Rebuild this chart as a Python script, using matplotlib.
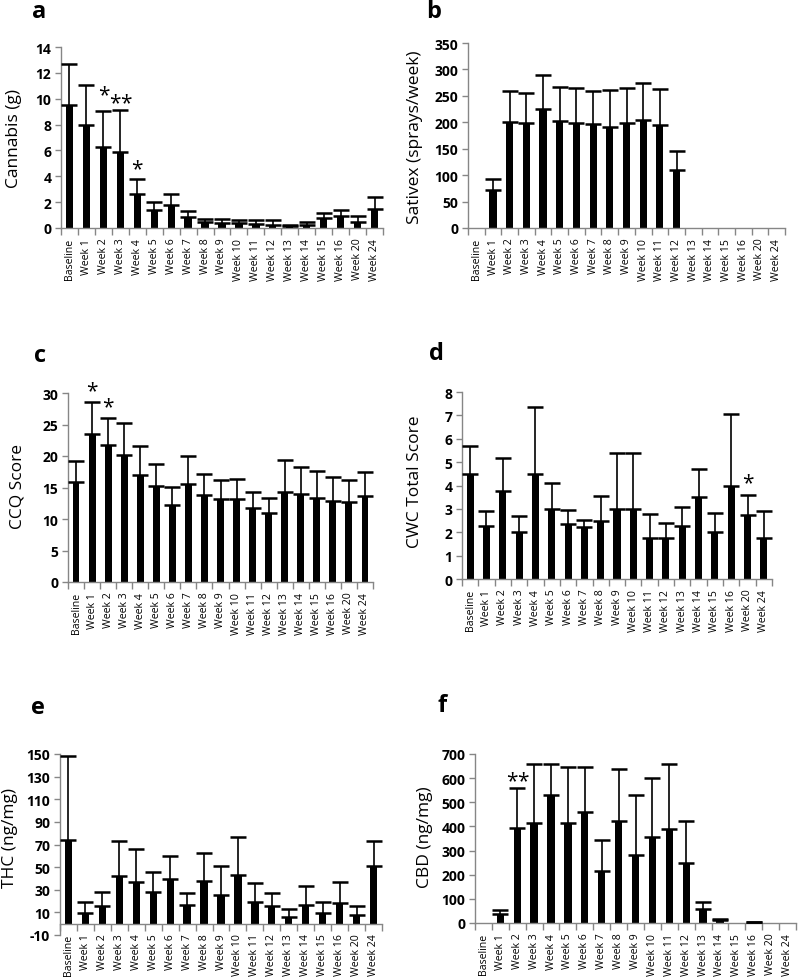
import numpy as np
import matplotlib
matplotlib.use('Agg')
from matplotlib import pyplot as plt

plt.rcParams['font.family'] = ['Open Sans', 'DejaVu Sans']

weeks = ['Baseline'] + ['Week %d' % w for w in list(range(1, 17)) + [20, 24]]

cannabis_mean = [9.5, 7.95, 6.25, 5.9, 2.65, 1.4, 1.8, 0.85, 0.5, 0.4, 0.35, 0.3, 0.25, 0.12, 0.23, 0.8, 0.95, 0.5, 1.5]
cannabis_err = [3.15, 3.1, 2.8, 3.25, 1.17, 0.58, 0.85, 0.49, 0.22, 0.32, 0.25, 0.3, 0.35, 0.14, 0.21, 0.36, 0.42, 0.4, 0.87]

sativex_mean = [0, 72, 200, 199, 226, 202, 199, 197, 192, 199, 205, 194, 109, 0, 0, 0, 0, 0, 0]
sativex_err = [0, 20, 59, 57, 64, 65, 65, 62, 69, 66, 69, 69, 37, 0, 0, 0, 0, 0, 0]

ccq_mean = [15.9, 23.5, 21.7, 20.2, 17.0, 15.2, 12.3, 15.5, 13.8, 13.1, 13.1, 11.8, 11.0, 14.3, 13.9, 13.4, 12.9, 12.7, 13.6]
ccq_err = [3.3, 5.0, 4.3, 5.1, 4.6, 3.6, 2.8, 4.5, 3.3, 3.1, 3.3, 2.5, 2.4, 5.1, 4.3, 4.2, 3.7, 3.5, 3.8]

cwc_mean = [4.5, 2.25, 3.75, 2.0, 4.5, 3.0, 2.36, 2.24, 2.5, 3.0, 3.0, 1.75, 1.75, 2.25, 3.5, 2.0, 4.0, 2.75, 1.75]
cwc_err = [1.21, 0.65, 1.44, 0.71, 2.86, 1.1, 0.58, 0.27, 1.04, 2.37, 2.37, 1.05, 0.65, 0.85, 1.2, 0.84, 3.04, 0.86, 1.14]

thc_mean = [73.8, 9.2, 15.6, 41.9, 36.9, 28.3, 39.3, 16.2, 37.8, 25.4, 43.4, 19.5, 15.4, 6.2, 16.2, 9.2, 18.0, 8.0, 51.1]
thc_err = [74.1, 9.8, 12.7, 31.3, 28.9, 17.7, 20.6, 10.7, 24.8, 25.7, 32.8, 16.5, 11.5, 7.1, 17.2, 9.7, 19.2, 7.9, 22.1]

cbd_mean = [0, 36, 393, 413, 530, 414, 458, 214, 422, 282, 358, 389, 249, 58, 14, 0, 3, 0, 0]
cbd_err = [0, 18, 167, 246, 129, 231, 187, 128, 216, 250, 244, 268, 172, 29, 2, 0, 2, 0, 0]

# significance marks: (bar index, number of stars, y position)
cannabis_sig = [(2, 1, 10.3), (3, 2, 9.7), (4, 1, 4.6)]
ccq_sig = [(1, 1, 30.4), (2, 1, 27.8)]
cwc_sig = [(17, 1, 4.1)]
cbd_sig = [(2, 2, 590)]

W, H = 800, 978
fig = plt.figure(figsize=(W / 100, H / 100), dpi=100)
grey = '#868686'


def make_ax(l, r, t, b):
	return fig.add_axes([l / W, 1 - b / H, (r - l) / W, (b - t) / H])


def panel(box, mean, err, ylim, yticks, ylabel, letter, letter_xy, ylabel_xy, sig=[], zero_axis=False):
	ax = make_ax(*box)
	# spine position first: moving it resets the tick settings
	if zero_axis:
		ax.spines['bottom'].set_position(('data', 0))
	x = np.arange(len(weeks))
	mean = np.array(mean, dtype=float)
	err = np.array(err, dtype=float)
	ax.bar(x, mean, width=0.43, color='black', zorder=2)
	m = mean > 0
	ax.errorbar(x[m], mean[m], yerr=[np.zeros(m.sum()), err[m]], fmt='none',
		ecolor='black', elinewidth=1.2, capsize=5.5, capthick=1.8, zorder=3)
	ax.set_xlim(-0.5, len(weeks) - 0.5)
	ax.set_ylim(*ylim)
	ax.set_yticks(yticks)
	ax.set_yticklabels([str(v) for v in yticks], fontweight='bold', fontsize=10)
	ax.set_xticks(x)
	ax.set_xticklabels(weeks, rotation=90, fontsize=7.6)
	ax.set_xticks(np.arange(-0.5, len(weeks)), minor=True)
	ax.tick_params(axis='x', which='major', length=0, pad=7)
	ax.tick_params(axis='x', which='minor', length=5, color=grey, width=1)
	ax.tick_params(axis='y', length=4, color=grey, width=1, pad=3)
	for s in ['top', 'right']:
		ax.spines[s].set_visible(False)
	for s in ['left', 'bottom']:
		ax.spines[s].set_color(grey)
		ax.spines[s].set_linewidth(1)
	for i, n, yv in sig:
		offs = [0] if n == 1 else [-0.34, 0.34]
		for dx in offs:
			ax.text(i + dx, yv, '*', ha='center', va='center', fontsize=15)
	fig.text(letter_xy[0] / W, 1 - letter_xy[1] / H, letter, fontsize=17, fontweight='bold', ha='center', va='center')
	fig.text(ylabel_xy[0] / W, 1 - ylabel_xy[1] / H, ylabel, fontsize=12.5, rotation=90, ha='center', va='center')
	return ax


panel((61, 383, 48, 229), cannabis_mean, cannabis_err, (0, 14), list(range(0, 15, 2)),
	'Cannabis (g)', 'a', (39, 12), (14, 139), cannabis_sig)
panel((468, 785, 44, 229), sativex_mean, sativex_err, (0, 350), list(range(0, 351, 50)),
	'Sativex (sprays/week)', 'b', (434, 12), (415, 137))
panel((68, 373, 394, 583), ccq_mean, ccq_err, (0, 30), list(range(0, 31, 5)),
	'CCQ Score', 'c', (40, 356), (17, 487), ccq_sig)
panel((462, 772, 393, 580), cwc_mean, cwc_err, (0, 8), list(range(0, 9)),
	'CWC Total Score', 'd', (436, 354), (415, 482), cwc_sig)
panel((60, 382, 755, 936), thc_mean, thc_err, (-10, 150), list(range(-10, 151, 20)),
	'THC (ng/mg)', 'e', (38, 708), (10, 838), zero_axis=True)
panel((475, 796, 755, 924), cbd_mean, cbd_err, (0, 700), list(range(0, 701, 100)),
	'CBD (ng/mg)', 'f', (442, 706), (425, 837), cbd_sig)

fig.savefig('out.png', dpi=100)
